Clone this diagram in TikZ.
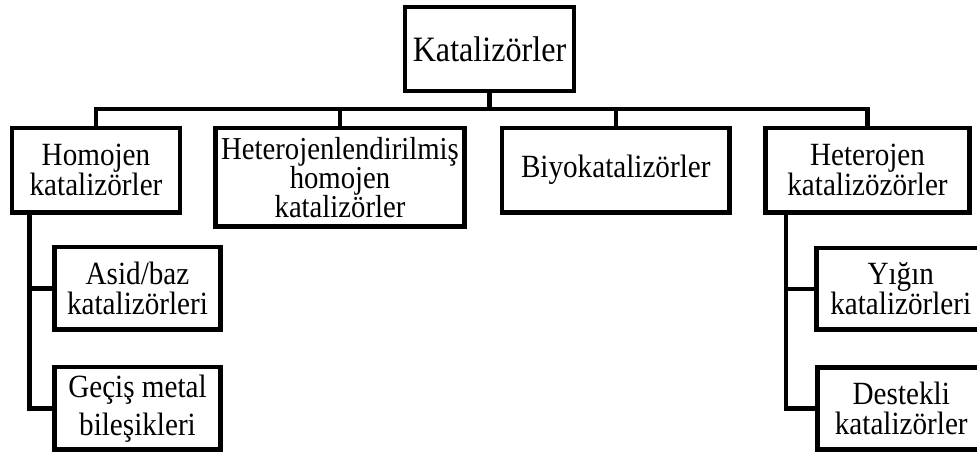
\documentclass[tikz,border=0pt]{standalone}
\usepackage{fontspec}
\setmainfont{Liberation Serif}[FakeStretch=0.9]
\begin{document}
\begin{tikzpicture}[x=1pt,y=-1pt,
  box/.style={draw, line width=4.5pt, rectangle, inner sep=0pt, align=center,
    font=\fontsize{32.4}{30}\selectfont, anchor=center},
  link/.style={line width=4.5pt}]
\useasboundingbox (0,0) rectangle (977,452);
\clip (0,0) rectangle (977,452);
% boxes
\node[box, minimum width=169pt, minimum height=84pt, font=\fontsize{35.7}{34}\selectfont] (top) at (489.5,49) {Katalizörler};
\node[box, minimum width=168pt, minimum height=84.5pt] (homo) at (96,170.25) {Homojen\\katalizörler};
\node[box, minimum width=249pt, minimum height=98.5pt, font=\fontsize{31.9}{29}\selectfont] (hetlen) at (340,177.25) {Heterojenlendirilmiş\\homojen\\katalizörler};
\node[box, minimum width=227.5pt, minimum height=84.5pt] (biyo) at (615.75,170.25) {Biyokatalizörler};
\node[box, minimum width=204pt, minimum height=84.5pt] (het) at (867.5,170.25) {Heterojen\\katalizözörler};
\node[box, minimum width=166pt, minimum height=82.5pt] (asid) at (137.5,288.25) {Asid/baz\\katalizörleri};
\node[box, minimum width=166pt, minimum height=82.5pt] (gecis) at (137.5,408.25) {Geçiş metal\\[8pt]bileşikleri};
\node[box, minimum width=168.5pt, minimum height=81.5pt] (yigin) at (900.75,288.75) {Yığın\\katalizörleri};
\node[box, minimum width=167.5pt, minimum height=82pt] (destek) at (901.25,408.5) {Destekli\\katalizörler};
% connectors
\coordinate (bus) at (0,109);
\draw[link] (top.south) -- (top.south |- bus);
\draw[link] (homo.north) -- (homo.north |- bus) -- (het.north |- bus) -- (het.north);
\draw[link] (hetlen.north) -- (hetlen.north |- bus);
\draw[link] (biyo.north) -- (biyo.north |- bus);
\coordinate (hl) at (29.5,212.5);
\draw[link] (hl) |- (gecis.west);
\draw[link] (hl |- asid.west) -- (asid.west);
\coordinate (hr) at (786,212.5);
\draw[link] (hr) |- (destek.west);
\draw[link] (hr |- yigin.west) -- (yigin.west);
\end{tikzpicture}
\end{document}
